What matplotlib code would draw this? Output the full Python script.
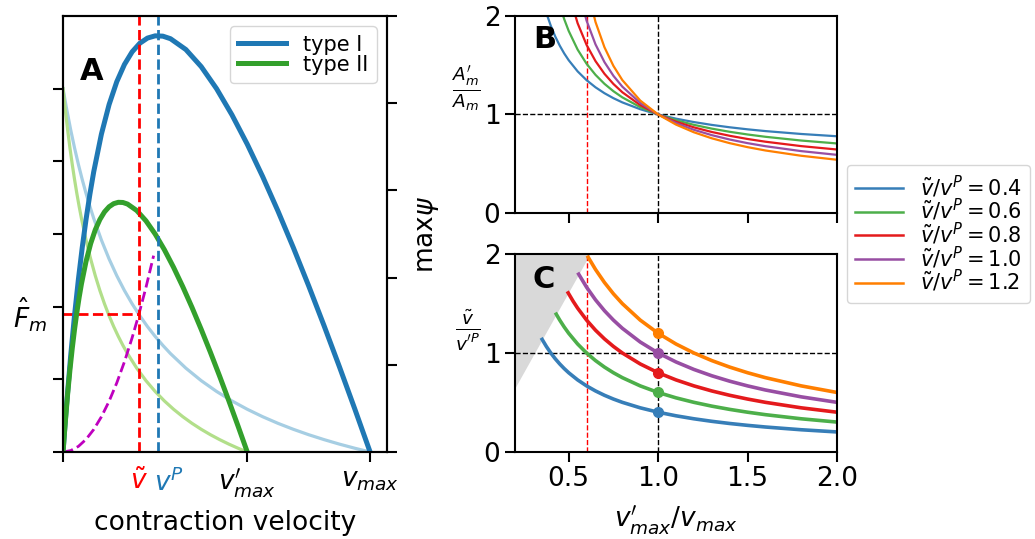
import matplotlib
matplotlib.use('Agg')
import matplotlib.pyplot as plt
import matplotlib.transforms as mtransforms

plt.rcParams['font.size'] = 19
plt.rcParams['axes.linewidth'] = 1.5
for ax_name in ['xtick', 'ytick']:
    plt.rcParams[ax_name + '.major.size'] = 7
    plt.rcParams[ax_name + '.major.width'] = 1.5

# ---- panel A: force / power vs contraction velocity (v / v_max) ----
v_fast = [0, 0.01, 0.025, 0.0375, 0.05, 0.0625, 0.075, 0.0875, 0.1, 0.125, 0.15, 0.175,
          0.2, 0.225, 0.25, 0.275, 0.3, 0.325, 0.35, 0.4, 0.45, 0.5, 0.55, 0.6, 0.65,
          0.7, 0.75, 0.8, 0.85, 0.9, 0.95, 1.0]
force_fast = [1.0, 0.9519, 0.8864, 0.8370, 0.7917, 0.75, 0.7115, 0.6759, 0.6429, 0.5833,
              0.5313, 0.4853, 0.4444, 0.4079, 0.375, 0.3452, 0.3182, 0.2935, 0.2708,
              0.2308, 0.1964, 0.1667, 0.1406, 0.1176, 0.0972, 0.0789, 0.0625, 0.0476,
              0.0341, 0.0217, 0.0104, 0.0]
power_fast = [0, 0.00952, 0.02216, 0.03139, 0.03958, 0.04688, 0.05337, 0.05914, 0.06429,
              0.07292, 0.07969, 0.08493, 0.08889, 0.09178, 0.09375, 0.09494, 0.09545,
              0.09538, 0.09479, 0.09231, 0.08839, 0.08333, 0.07734, 0.07059, 0.06319,
              0.05526, 0.04688, 0.0381, 0.02898, 0.01957, 0.0099, 0]
v_slow = [0, 0.006, 0.015, 0.0225, 0.03, 0.0375, 0.045, 0.0525, 0.06, 0.075, 0.09, 0.105,
          0.12, 0.135, 0.15, 0.165, 0.18, 0.195, 0.21, 0.24, 0.27, 0.3, 0.33, 0.36, 0.39,
          0.42, 0.45, 0.48, 0.51, 0.54, 0.57, 0.6]
force_slow = [1.0, 0.9519, 0.8864, 0.8370, 0.7917, 0.75, 0.7115, 0.6759, 0.6429, 0.5833,
              0.5313, 0.4853, 0.4444, 0.4079, 0.375, 0.3452, 0.3182, 0.2935, 0.2708,
              0.2308, 0.1964, 0.1667, 0.1406, 0.1176, 0.0972, 0.0789, 0.0625, 0.0476,
              0.0341, 0.0217, 0.0104, 0.0]
power_slow = [0, 0.00571, 0.0133, 0.01883, 0.02375, 0.02813, 0.03202, 0.03548, 0.03857,
              0.04375, 0.04781, 0.05096, 0.05333, 0.05507, 0.05625, 0.05696, 0.05727,
              0.05723, 0.05687, 0.05539, 0.05303, 0.05, 0.0464, 0.04235, 0.03791, 0.03316,
              0.02813, 0.02286, 0.01739, 0.01174, 0.00594, 0]
v_load = [0, 0.025, 0.05, 0.075, 0.1, 0.125, 0.15, 0.175, 0.2, 0.225, 0.247, 0.27, 0.295]
force_load = [0, 0.0039, 0.0155, 0.0349, 0.0621, 0.0970, 0.1397, 0.1902, 0.2484, 0.3144,
              0.3789, 0.4527, 0.5404]
v_tilde = 0.247
v_peak = 0.309
F_hat = 0.379
vmax_slow = 0.6
vmax_fast = 1.0

# ---- panels B, C: vs v'_max / v_max ----
ratios = [0.4, 0.6, 0.8, 1.0, 1.2]
ratio_colors = ['#377eb8', '#4daf4a', '#e41a1c', '#984ea3', '#ff7f00']
xB = [0.375, 0.4, 0.425, 0.45, 0.475, 0.5, 0.55, 0.6, 0.65, 0.7, 0.75, 0.8, 0.9, 1.0,
      1.1, 1.2, 1.3, 1.4, 1.5, 1.6, 1.8, 2.0]
area_ratio = [
    [2.0281, 1.8977, 1.7889, 1.6969, 1.6179, 1.5494, 1.4364, 1.3473, 1.2750, 1.2153, 1.1651,
     1.1223, 1.0533, 1.0, 0.9577, 0.9232, 0.8945, 0.8704, 0.8498, 0.8319, 0.8027, 0.7796],
    [2.7546, 2.4882, 2.2773, 2.1064, 1.9649, 1.8460, 1.6569, 1.5135, 1.4010, 1.3103, 1.2357,
     1.1732, 1.0745, 1.0, 0.9418, 0.8951, 0.8567, 0.8247, 0.7976, 0.7742, 0.7363, 0.7067],
    [4.0393, 3.4404, 3.0099, 2.6855, 2.4323, 2.2292, 1.9236, 1.7046, 1.5400, 1.4118, 1.3090,
     1.2249, 1.0952, 1.0, 0.9271, 0.8696, 0.8229, 0.7844, 0.7520, 0.7244, 0.6798, 0.6454],
    [7.5431, 5.5557, 4.4250, 3.6951, 3.1852, 2.8088, 2.2902, 1.9498, 1.7092, 1.5301, 1.3917,
     1.2814, 1.1169, 1.0, 0.9126, 0.8449, 0.7908, 0.7466, 0.7099, 0.6789, 0.6292, 0.5914],
    [112.10, 16.341, 8.9207, 6.1848, 4.7617, 3.8894, 2.8749, 2.3030, 1.9359, 1.6804, 1.4922,
     1.3479, 1.1411, 1.0, 0.8976, 0.8199, 0.7589, 0.7098, 0.6694, 0.6356, 0.5821, 0.5417],
]
xC = [
    [0.3516, 0.375, 0.4, 0.425, 0.45, 0.475, 0.5, 0.55, 0.6, 0.65, 0.7, 0.75, 0.8, 0.9, 1.0,
     1.1, 1.2, 1.3, 1.4, 1.5, 1.6, 1.8, 2.0],
    [0.4306, 0.45, 0.475, 0.5, 0.55, 0.6, 0.65, 0.7, 0.75, 0.8, 0.9, 1.0, 1.1, 1.2, 1.3, 1.4,
     1.5, 1.6, 1.8, 2.0],
    [0.4972, 0.525, 0.55, 0.6, 0.65, 0.7, 0.75, 0.8, 0.9, 1.0, 1.1, 1.2, 1.3, 1.4, 1.5, 1.6,
     1.8, 2.0],
    [0.5559, 0.6, 0.65, 0.7, 0.75, 0.8, 0.9, 1.0, 1.1, 1.2, 1.3, 1.4, 1.5, 1.6, 1.8, 2.0],
    [0.6089, 0.65, 0.7, 0.75, 0.8, 0.9, 1.0, 1.1, 1.2, 1.3, 1.4, 1.5, 1.6, 1.8, 2.0],
]
vel_ratio = [
    [1.1377, 1.0667, 1.0, 0.9412, 0.8889, 0.8421, 0.8, 0.7273, 0.6667, 0.6154, 0.5714, 0.5333,
     0.5, 0.4444, 0.4, 0.3636, 0.3333, 0.3077, 0.2857, 0.2667, 0.25, 0.2222, 0.2],
    [1.3934, 1.3333, 1.2632, 1.2, 1.0909, 1.0, 0.9231, 0.8571, 0.8, 0.75, 0.6667, 0.6, 0.5455,
     0.5, 0.4615, 0.4286, 0.4, 0.375, 0.3333, 0.3],
    [1.609, 1.5238, 1.4545, 1.3333, 1.2308, 1.1429, 1.0667, 1.0, 0.8889, 0.8, 0.7273, 0.6667,
     0.6154, 0.5714, 0.5333, 0.5, 0.4444, 0.4],
    [1.7989, 1.6667, 1.5385, 1.4286, 1.3333, 1.25, 1.1111, 1.0, 0.9091, 0.8333, 0.7692,
     0.7143, 0.6667, 0.625, 0.5556, 0.5],
    [1.9708, 1.8462, 1.7143, 1.6, 1.5, 1.3333, 1.2, 1.0909, 1.0, 0.9231, 0.8571, 0.8, 0.75,
     0.6667, 0.6],
]
excluded_x = [0.2, 0.618]
excluded_y = [0.647, 2.0]

fig = plt.figure(figsize=(10.35, 5.39), dpi=100)

# ================= A =================
axA = fig.add_axes([0.0609, 0.1614, 0.3130, 0.8089])
axA2 = axA.twinx()

axA.plot(v_fast, force_fast, color='#a6cee3', lw=2.3)
axA.plot(v_slow, force_slow, color='#b2df8a', lw=2.3)
axA.plot(v_load, force_load, color='m', lw=2, ls='--')
axA.plot([0, v_tilde], [F_hat, F_hat], color='r', lw=2, ls='--')

axA2.plot(v_fast, power_fast, color='#1f78b4', lw=3.6, label='type I')
axA2.plot(v_slow, power_slow, color='#33a02c', lw=3.6, label='type II')
axA2.axvline(v_tilde, color='r', lw=2, ls='--')
axA2.axvline(v_peak, color='#1f78b4', lw=2, ls='--')

axA.set_xlim(0, 1.055)
axA.set_ylim(0, 1.2)
axA2.set_ylim(0, 0.1)
axA.set_yticks([0, 0.2, 0.4, 0.6, 0.8, 1.0])
axA.set_yticklabels([])
axA2.set_yticks([0, 0.02, 0.04, 0.06, 0.08, 0.1])
axA2.set_yticklabels([])
axA2.set_ylabel(r'$\max\psi$', labelpad=10)

axA.set_xticks([0, vmax_slow, vmax_fast])
axA.set_xticklabels(['', r"$v^{\prime}_{max}$", r'$v_{max}$'])
axA.set_xticks([v_tilde, v_peak + 0.035], minor=True)
axA.set_xticklabels([r'$\tilde{v}$', r'$v^P$'], minor=True)
axA.tick_params(axis='x', which='minor', length=0, pad=12)
mlabels = axA.get_xticklabels(minor=True)
mlabels[0].set_color('r')
mlabels[1].set_color('#1f78b4')
axA.set_xlabel('contraction velocity', labelpad=7)

trans = mtransforms.blended_transform_factory(axA.transAxes, axA.transData)
axA.text(-0.05, F_hat, r'$\hat{F}_m$', transform=trans, ha='right', va='center')
axA.text(0.052, 0.905, 'A', transform=axA.transAxes, fontsize=22, fontweight='bold',
         va='top')

axA2.legend(loc='upper right', fontsize=15, labelspacing=0.0, handlelength=2.3,
            borderpad=0.4)

# ================= B =================
axB = fig.add_axes([0.4976, 0.6043, 0.3111, 0.3666])
axB.axvline(vmax_slow, color='r', lw=1, ls='--')
axB.axvline(1.0, color='k', lw=1, ls='--')
axB.axhline(1.0, color='k', lw=1, ls='--')
for r, c, yy in zip(ratios, ratio_colors, area_ratio):
    axB.plot(xB, yy, color=c, lw=1.6)
axB.set_xlim(0.2, 2.0)
axB.set_ylim(0, 2)
axB.set_yticks([0, 1, 2])
axB.set_xticks([0.5, 1.0, 1.5, 2.0])
axB.set_xticklabels([])
axB.set_ylabel(r"$\frac{A^{\prime}_m}{A_m}$", rotation=0, ha='right', va='bottom',
               labelpad=2)
axB.text(0.056, 0.955, 'B', transform=axB.transAxes, fontsize=22, fontweight='bold',
         va='top')

# ================= C =================
axC = fig.add_axes([0.4976, 0.162, 0.3111, 0.3662])
axC.fill_between(excluded_x, excluded_y, 2.0, color='#d9d9d9', lw=0)
axC.axvline(vmax_slow, color='r', lw=1, ls='--')
axC.axvline(1.0, color='k', lw=1, ls='--')
axC.axhline(1.0, color='k', lw=1, ls='--')
handles = []
for r, c, xx, yy in zip(ratios, ratio_colors, xC, vel_ratio):
    axC.plot(xx, yy, color=c, lw=2.6)
    axC.plot([1.0], [r], 'o', color=c, ms=7)
    h, = axB.plot([], [], color=c, lw=1.8, label=r'$\tilde{v}/v^P=%.1f$' % r)
    handles.append(h)
axC.set_xlim(0.2, 2.0)
axC.set_ylim(0, 2)
axC.set_yticks([0, 1, 2])
axC.set_xticks([0.5, 1.0, 1.5, 2.0])
axC.set_xlabel(r"$v^{\prime}_{max}/v_{max}$", labelpad=8)
axC.set_ylabel(r"$\frac{\tilde{v}}{v^{\prime P}}$", rotation=0, ha='right', va='bottom',
               labelpad=2)
axC.text(0.053, 0.948, 'C', transform=axC.transAxes, fontsize=22, fontweight='bold',
         va='top')

fig.legend(handles=handles, loc='center left', bbox_to_anchor=(0.818, 0.566),
           fontsize=15, borderaxespad=0, handlelength=2.3, labelspacing=-0.12)

fig.savefig('out.png', dpi=100)
